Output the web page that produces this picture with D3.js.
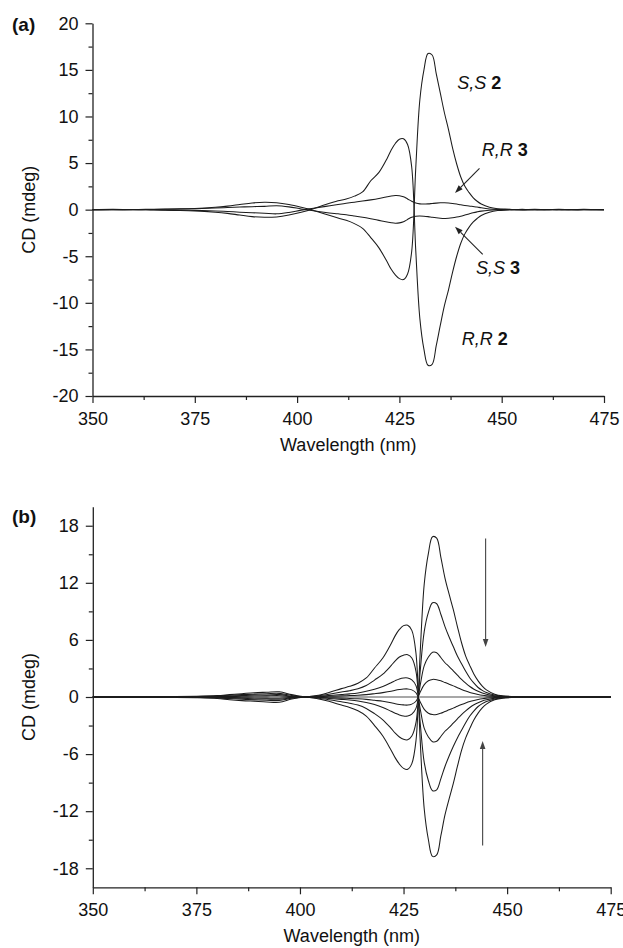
<!DOCTYPE html>
<html><head><meta charset="utf-8">
<script src="https://cdn.jsdelivr.net/npm/d3@7"></script>
<style>
html,body{margin:0;padding:0;background:#fff;}
text{font-family:"Liberation Sans",Arial,Helvetica,sans-serif;fill:#111;}
</style></head>
<body>
<svg id="c" width="623" height="948"></svg>
<script>
// ---------- DATA ----------
const wavelengths = [350,355,360,365,370,375,380,383,386,389,392,395,398,401,404,407,410,412,414,416,418,420,422,423,424,425,426,427,428,429,430,431,432,433,434,435,436,437,438,439,440,441,442,443,444,445,447,449,452,455,458,461,464,467,470,473,475];

// Panel (a)
const ssTwo = [0,0.03,0,0.05,0.08,0.12,0.25, 0.38,0.55,0.72,0.8,0.75,0.55,0.25,-0.1,-0.5,-0.9, -1.15,-1.5,-2.0,-3.0,-4.1,-5.6, -6.4,-7.0,-7.4,-7.5,-6.9,-4.5,4.5,11.8,15.0,16.75,16.6,14.6,12.5,10.4,8.6,6.6,4.9,3.5,2.5,1.85,1.3,0.9,0.6, 0.25,0.1,0.05,-0.03,0.04,0,0.04,-0.02,0.03,0,0];
const rrTwo = [0,-0.02,0.02,-0.04,-0.08,-0.13,-0.27, -0.4,-0.58,-0.75,-0.82,-0.78,-0.58,-0.28,0.1,0.55,0.95, 1.15,1.45,1.9,3.1,4.0,5.5, 6.4,7.1,7.55,7.6,7.0,4.6,-4.4,-11.7,-15.0,-16.7,-16.6,-14.6,-12.4,-10.3,-8.6,-6.7,-5.0,-3.6,-2.6,-1.9,-1.35,-0.95,-0.62, -0.27,-0.1,-0.04,0.03,-0.03,0.02,-0.03,0.02,-0.02,0.01,0];
const rrThree = [0,0.02,-0.02,0,-0.05,-0.08,-0.15, -0.2,-0.27,-0.33,-0.38,-0.45,-0.3,-0.05,0.15,0.35,0.55, 0.68,0.8,0.92,1.05,1.2,1.38, 1.47,1.52,1.5,1.38,1.15,0.9,0.72,0.62,0.6,0.62,0.66,0.7,0.73,0.74,0.72,0.67,0.6,0.52,0.45,0.4,0.34,0.28,0.2, 0.08,0.03,0.02,-0.02,0.01,0,0.02,-0.01,0.01,0,0];
const ssThree = [0,-0.02,0.02,0.02,0.06,0.1,0.17, 0.22,0.28,0.32,0.35,0.42,0.3,0.08,-0.12,-0.3,-0.45, -0.55,-0.68,-0.82,-0.98,-1.15,-1.32, -1.4,-1.45,-1.42,-1.3,-1.05,-0.82,-0.7,-0.68,-0.7,-0.75,-0.82,-0.88,-0.92,-0.94,-0.93,-0.88,-0.8,-0.7,-0.58,-0.46,-0.34,-0.24,-0.16, -0.07,-0.02,0.01,0,0.02,-0.01,0.01,0,-0.01,0,0];

// Panel (b)
const bS100 = [0,0.03,-0.02,0.04,0.05,0.08,0.15, 0.25,0.35,0.45,0.5,0.55,0.25,0.02,-0.15,-0.45,-0.85, -1.1,-1.45,-2.0,-3.0,-4.1,-5.6, -6.4,-7.05,-7.5,-7.6,-7.0,-4.6,4.5,11.9,15.1,16.85,16.7,14.7,12.5,10.8,9.2,7.4,5.7,4.3,3.3,2.4,1.7,1.15,0.75, 0.3,0.12,0.04,-0.03,0.04,0,0.04,-0.02,0.03,0,0];
const bS60 = [0,0.02,0,0.02,0.03,0.05,0.1, 0.18,0.25,0.3,0.35,0.38,0.15,0,-0.1,-0.28,-0.5, -0.65,-0.85,-1.2,-1.75,-2.4,-3.3, -3.8,-4.2,-4.45,-4.5,-4.1,-2.7,2.6,6.9,8.9,9.9,9.8,8.7,7.4,6.3,5.3,4.3,3.5,2.7,2.0,1.45,1.0,0.7,0.48, 0.2,0.06,0.02,-0.02,0.02,0,0.02,-0.01,0.02,0,0];
const bS28 = [0,0.01,0,0.01,0.02,0.03,0.05, 0.1,0.15,0.2,0.22,0.25,0.08,0,-0.05,-0.15,-0.25, -0.32,-0.42,-0.58,-0.8,-1.1,-1.5, -1.7,-1.88,-2.0,-2.0,-1.8,-1.2,1.2,3.3,4.2,4.7,4.65,4.15,3.6,3.2,2.75,2.3,1.85,1.45,1.1,0.82,0.6,0.42,0.3, 0.12,0.04,0.01,-0.01,0.01,0,0.01,0,0.01,0,0];
const bS11 = [0,0.01,0,0.01,0.01,0.02,0.03, 0.05,0.08,0.1,0.12,0.14,0.04,0,-0.03,-0.07,-0.12, -0.15,-0.19,-0.25,-0.35,-0.45,-0.6, -0.7,-0.78,-0.83,-0.85,-0.75,-0.45,0.5,1.3,1.7,1.85,1.82,1.7,1.52,1.35,1.17,0.98,0.8,0.63,0.48,0.36,0.26,0.18,0.12, 0.05,0.02,0,-0.01,0.01,0,0,0,0.01,0,0];
const bR100 = [0,-0.02,0.02,-0.03,-0.05,-0.08,-0.15, -0.28,-0.38,-0.45,-0.52,-0.55,-0.22,0,0.15,0.48,0.88, 1.12,1.45,2.0,3.05,4.1,5.6, 6.45,7.1,7.5,7.55,7.0,4.6,-4.4,-11.8,-15.0,-16.75,-16.6,-14.6,-12.4,-10.7,-9.1,-7.3,-5.6,-4.3,-3.3,-2.4,-1.7,-1.15,-0.75, -0.3,-0.12,-0.04,0.03,-0.03,0.02,-0.03,0.02,-0.02,0.01,0];
const bR60 = [0,-0.01,0.01,-0.02,-0.03,-0.05,-0.1, -0.17,-0.24,-0.3,-0.34,-0.36,-0.14,0,0.1,0.3,0.52, 0.66,0.86,1.2,1.78,2.4,3.3, 3.8,4.2,4.4,4.45,4.1,2.7,-2.6,-6.9,-8.8,-9.85,-9.75,-8.6,-7.3,-6.2,-5.2,-4.3,-3.5,-2.7,-2.0,-1.45,-1.0,-0.7,-0.48, -0.2,-0.07,-0.02,0.02,-0.02,0,-0.02,0.01,-0.01,0,0];
const bR28 = [0,-0.01,0,-0.01,-0.02,-0.03,-0.05, -0.1,-0.14,-0.2,-0.22,-0.24,-0.08,0,0.05,0.15,0.26, 0.33,0.43,0.6,0.82,1.1,1.5, 1.72,1.9,2.0,2.0,1.8,1.2,-1.2,-3.3,-4.2,-4.7,-4.65,-4.15,-3.6,-3.2,-2.75,-2.3,-1.85,-1.45,-1.1,-0.82,-0.6,-0.42,-0.3, -0.12,-0.04,-0.01,0.01,-0.01,0,-0.01,0,-0.01,0,0];
const bR11 = [0,-0.01,0,-0.01,-0.01,-0.02,-0.03, -0.05,-0.07,-0.1,-0.12,-0.13,-0.04,0,0.03,0.07,0.12, 0.15,0.19,0.25,0.35,0.46,0.6, 0.7,0.78,0.84,0.85,0.75,0.45,-0.5,-1.3,-1.7,-1.85,-1.83,-1.7,-1.52,-1.35,-1.17,-0.98,-0.8,-0.63,-0.48,-0.36,-0.26,-0.18,-0.12, -0.05,-0.02,0,0.01,-0.01,0,0,0,-0.01,0,0];

// Ticks
const xTicks = [350,375,400,425,450,475];
const xMinor = [362.5,387.5,412.5,437.5,462.5];
const yTicksA = [-20,-15,-10,-5,0,5,10,15,20];
const yMinorA = [-17.5,-12.5,-7.5,-2.5,2.5,7.5,12.5,17.5];
const yTicksB = [-18,-12,-6,0,6,12,18];
const yMinorB = [-15,-9,-3,3,9,15];

// Annotations (data units)
const labelsA = [
  {it:"S,S", b:"2", x:439.15, y:12.92},
  {it:"R,R", b:"3", x:445.11, y:5.76},
  {it:"S,S", b:"3", x:443.72, y:-6.9},
  {it:"R,R", b:"2", x:440.22, y:-14.53}
];
const arrowsA = [
  {x1:444.57, y1:4.42, x2:438.59, y2:1.79},
  {x1:445.36, y1:-4.79, x2:438.59, y2:-1.83}
];
const arrowsB = [
  {x1:444.81, y1:16.67, x2:444.81, y2:5.26},
  {x1:444.09, y1:-15.6, x2:444.09, y2:-4.63}
];

// ---------- DRAW ----------
const svg = d3.select("#c");
svg.append("rect").attr("width",623).attr("height",948).attr("fill","#fff");

function panel(cfg){
  const g = svg.append("g");
  const x = d3.scaleLinear().domain([350,475]).range([cfg.x0,cfg.x1]);
  const y = d3.scaleLinear().domain([-20,20]).range([cfg.yb,cfg.yt]);
  const fmt = d => String(d);
  // axes
  const yAx = g.append("g").attr("transform",`translate(${cfg.x0},0)`)
    .call(d3.axisLeft(y).tickValues(cfg.yt_).tickSize(7).tickPadding(7).tickSizeOuter(0).tickFormat(fmt));
  g.append("g").attr("transform",`translate(${cfg.x0},0)`)
    .call(d3.axisLeft(y).tickValues(cfg.ym).tickSize(4).tickFormat("")).select(".domain").remove();
  const xAx = g.append("g").attr("transform",`translate(0,${cfg.yb})`)
    .call(d3.axisBottom(x).tickValues(xTicks).tickSize(7).tickPadding(9).tickSizeOuter(0).tickFormat(fmt));
  g.append("g").attr("transform",`translate(0,${cfg.yb})`)
    .call(d3.axisBottom(x).tickValues(xMinor).tickSize(4).tickFormat("")).select(".domain").remove();
  g.selectAll(".domain").attr("stroke","#222").attr("stroke-width",1.3);
  g.selectAll(".tick line").attr("stroke","#222").attr("stroke-width",1.2);
  g.selectAll(".tick text").attr("font-size",18).attr("font-family","Liberation Sans, Arial, sans-serif").attr("fill","#111");

  if(cfg.zero){
    g.append("line").attr("x1",x(350)).attr("x2",x(475)).attr("y1",y(0)).attr("y2",y(0))
      .attr("stroke","#8a8a8a").attr("stroke-width",1.3);
  }
  const line = d3.line().x((d,i)=>x(wavelengths[i])).y(d=>y(d)).curve(d3.curveCatmullRom.alpha(0.5));
  cfg.series.forEach(s=>{
    g.append("path").attr("d",line(s)).attr("fill","none").attr("stroke","#1c1c1c").attr("stroke-width",1.05);
  });

  // labels
  g.append("text").attr("x",12).attr("y",cfg.tagY).attr("font-size",19).attr("font-weight","bold").text(cfg.tag);
  g.append("text").attr("transform",`translate(35,${(cfg.yt+cfg.yb)/2}) rotate(-90)`)
    .attr("text-anchor","middle").attr("font-size",18).text("CD (mdeg)");
  g.append("text").attr("x",(cfg.x0+cfg.x1)/2).attr("y",cfg.titleY).attr("text-anchor","middle")
    .attr("font-size",18).text("Wavelength (nm)");

  // arrows
  cfg.arrows.forEach(a=>{
    const X1=x(a.x1),Y1=y(a.y1),X2=x(a.x2),Y2=y(a.y2);
    const ang=Math.atan2(Y2-Y1,X2-X1), L=8, W2=2.8;
    const bx=X2-L*Math.cos(ang), by=Y2-L*Math.sin(ang);
    g.append("line").attr("x1",X1).attr("y1",Y1).attr("x2",bx).attr("y2",by)
      .attr("stroke",cfg.arrowColor).attr("stroke-width",1.1);
    const p=[[X2,Y2],[bx+W2*Math.sin(ang),by-W2*Math.cos(ang)],[bx-W2*Math.sin(ang),by+W2*Math.cos(ang)]];
    g.append("path").attr("d","M"+p.map(q=>q.join(",")).join("L")+"Z").attr("fill",cfg.arrowColor);
  });
  (cfg.labels||[]).forEach(l=>{
    const t=g.append("text").attr("x",x(l.x)).attr("y",y(l.y)).attr("font-size",18);
    t.append("tspan").attr("font-style","italic").text(l.it);
    t.append("tspan").attr("font-weight","bold").text(" "+l.b);
  });
}

panel({x0:92.5,x1:604,yt:23.3,yb:396,yt_:yTicksA,ym:yMinorA,zero:false,
  series:[ssTwo,rrTwo,rrThree,ssThree],tag:"(a)",tagY:31,titleY:451,
  arrows:arrowsA,arrowColor:"#222",labels:labelsA});
panel({x0:92.8,x1:610.7,yt:506.7,yb:887.3,yt_:yTicksB,ym:yMinorB,zero:true,
  series:[bS100,bS60,bS28,bS11,bR100,bR60,bR28,bR11],tag:"(b)",tagY:523,titleY:942,
  arrows:arrowsB,arrowColor:"#444",labels:[]});
</script>
</body></html>
